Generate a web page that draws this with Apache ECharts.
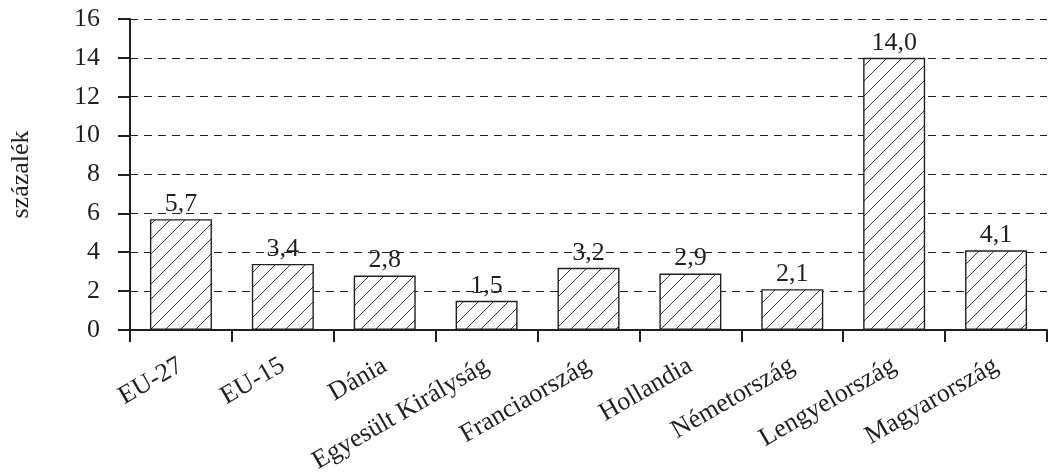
<!DOCTYPE html>
<html><head><meta charset="utf-8">
<script src="https://cdn.jsdelivr.net/npm/echarts@6/dist/echarts.min.js"></script>
<style>html,body{margin:0;padding:0;background:#fff}#c{width:1050px;height:476px}</style>
</head><body><div id="c"></div>
<script>
const categories = ['EU-27','EU-15','Dánia','Egyesült Királyság','Franciaország','Hollandia','Németország','Lengyelország','Magyarország'];
const values = [5.7, 3.4, 2.8, 1.5, 3.2, 2.9, 2.1, 14.0, 4.1];
const yTicks = [0, 2, 4, 6, 8, 10, 12, 14, 16];

function hatch(){
  const s = 15, c = document.createElement('canvas');
  c.width = s; c.height = s;
  const g = c.getContext('2d');
  g.fillStyle = '#fff'; g.fillRect(0,0,s,s);
  g.strokeStyle = '#3a3a3a'; g.lineWidth = 1;
  g.beginPath();
  g.moveTo(-1, s+1); g.lineTo(s+1, -1);
  g.moveTo(-1, 1); g.lineTo(1, -1);
  g.moveTo(s-1, s+1); g.lineTo(s+1, s-1);
  g.stroke();
  return c;
}
const font = '"Liberation Serif", "Times New Roman", serif';
const ink = '#231f20';
const chart = echarts.init(document.getElementById('c'));
chart.setOption({
  animation: false,
  grid: {left: 129, right: 3, top: 19, bottom: 145},
  xAxis: {
    type: 'category', data: categories,
    axisLine: {lineStyle: {color: ink, width: 2}},
    axisTick: {show: true, length: 12, lineStyle: {width: 2, color: ink}},
    axisLabel: {rotate: 30, fontFamily: font, fontSize: 26, color: ink, margin: 34, interval: 0}
  },
  yAxis: {
    type: 'value', min: 0, max: 16, interval: 2,
    name: 'százalék', nameLocation: 'middle', nameGap: 96, nameRotate: 90,
    nameTextStyle: {fontFamily: font, fontSize: 26, color: ink},
    axisLine: {show: true, lineStyle: {color: ink, width: 2}},
    axisTick: {show: true, length: 12, lineStyle: {width: 2, color: ink}},
    axisLabel: {fontFamily: font, fontSize: 26, color: ink, margin: 30,
      formatter: v => yTicks.includes(v) ? String(v) : ''},
    splitLine: {show: true, lineStyle: {type: [8, 6], color: ink, width: 1}}
  },
  series: [{
    type: 'bar', data: values, barWidth: 62,
    itemStyle: {color: {image: hatch(), repeat: 'repeat'}, borderColor: ink, borderWidth: 1.4},
    label: {show: true, position: 'top', distance: 2, fontFamily: font, fontSize: 26, color: ink,
      formatter: p => p.value.toFixed(1).replace('.', ',')}
  }]
});
</script></body></html>
